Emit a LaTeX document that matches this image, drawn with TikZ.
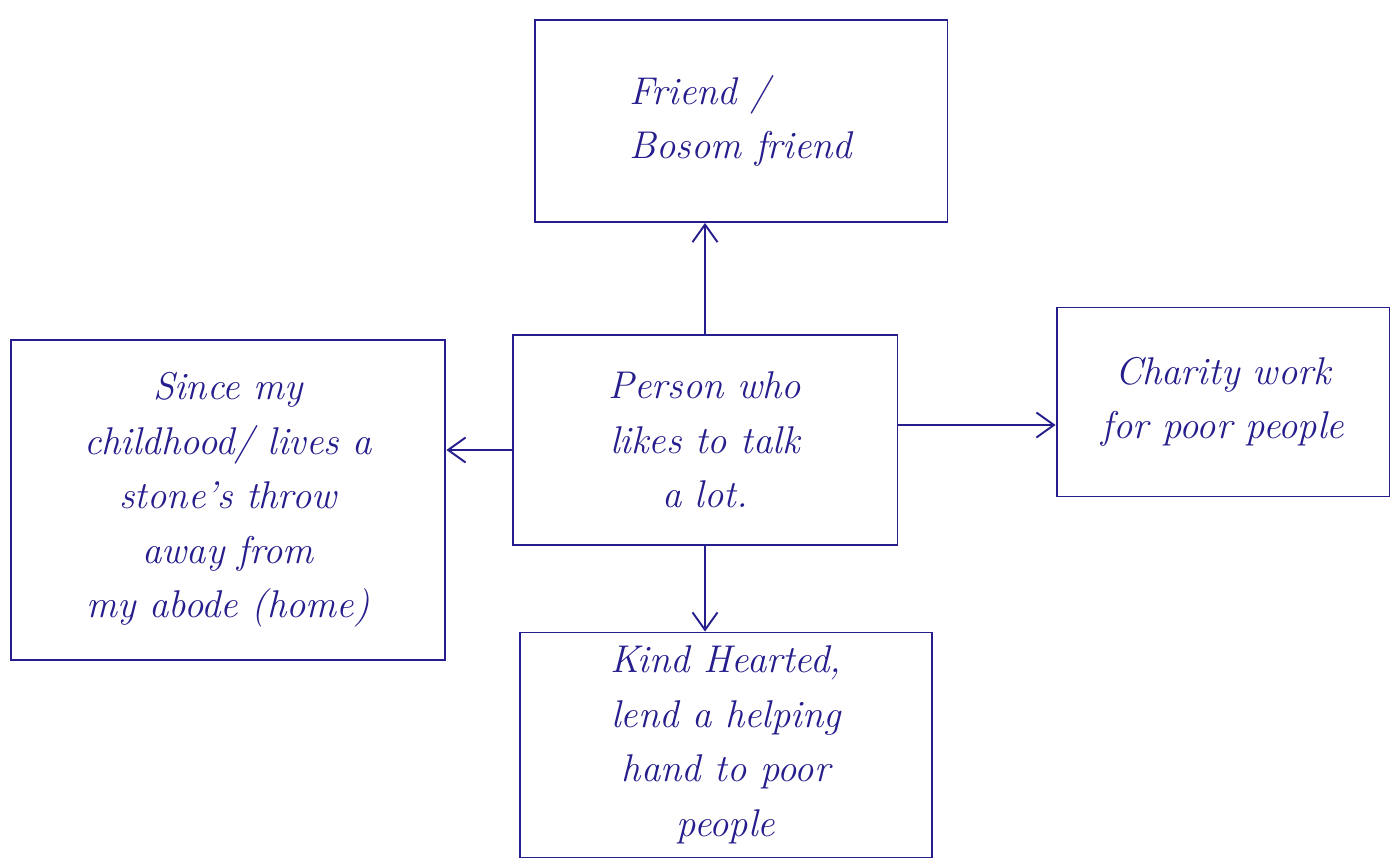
\documentclass[tikz,border=0pt]{standalone}
\usepackage{xcolor}
\usetikzlibrary{arrows.meta}
\definecolor{inkColor}{RGB}{38, 30, 140}

\begin{document}
\begin{tikzpicture}[x=0.02cm, y=-0.02cm]
                \tikzset{
                  card/.style={draw=inkColor, line width=1.1pt, text=inkColor, font=\fontsize{22}{31}\selectfont\itshape},
                  link/.style={-{Straight Barb[length=3.5mm, width=5mm]}, inkColor, line width=1.1pt}
                }
                \useasboundingbox (0,0) rectangle (1395,865);
                \node[card, minimum width=8.26cm, minimum height=4.04cm, align=left] (friend) at (741,121) {Friend /\\Bosom friend};
                \node[card, minimum width=7.7cm, minimum height=4.2cm, align=center] (person) at (705,440) {Person who\\likes to talk\\a lot.};
                \node[card, minimum width=8.7cm, minimum height=6.4cm, align=center] (childhood) at (228,500) {Since my\\childhood/ lives a\\stone's throw\\away from\\my abode (home)};
                \node[card, minimum width=6.66cm, minimum height=3.78cm, align=center] (charity) at (1223,402) {Charity work\\for poor people};
                \node[card, minimum width=8.24cm, minimum height=4.5cm, align=center] (kind) at (726,745) {Kind Hearted,\\lend a helping\\hand to poor\\people};
                \draw[link] (person.north) -- (person.north |- friend.south);
                \draw[link] ([yshift=-0.2cm]person.west) -- ([yshift=-0.2cm]person.west -| childhood.east);
                \draw[link] ([yshift=0.3cm]person.east) -- ([yshift=0.3cm]person.east -| charity.west);
                \draw[link] (person.south) -- (person.south |- kind.north);
            \end{tikzpicture}
\end{document}
